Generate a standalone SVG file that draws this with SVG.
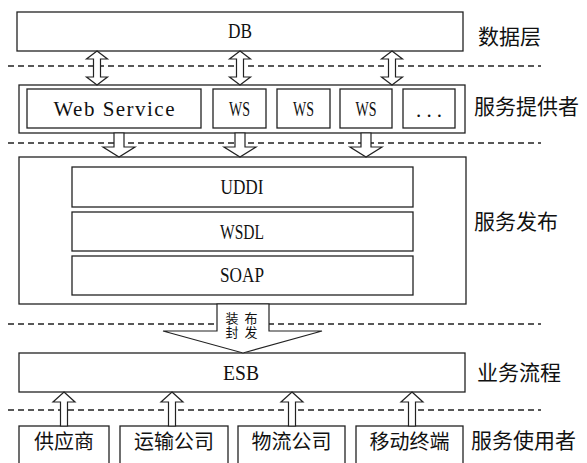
<svg xmlns="http://www.w3.org/2000/svg" width="587" height="463" viewBox="0 0 587 463">
<style>
.box{fill:#fff;stroke:#222;stroke-width:1.3}
.sep{stroke:#222;stroke-width:1.3;stroke-dasharray:6 4;fill:none}
.arr{fill:#fff;stroke:#222;stroke-width:1.2;stroke-linejoin:miter}
.en{font-family:"Liberation Serif",serif;font-size:21px;fill:#111;text-anchor:middle;dominant-baseline:central}
.zh{font-family:"Liberation Serif","Noto Sans CJK SC",sans-serif;font-size:20px;fill:#111;text-anchor:middle;dominant-baseline:central}
.lbl{font-family:"Liberation Serif","Noto Sans CJK SC",sans-serif;font-size:21px;fill:#111;dominant-baseline:central}
.vt{font-family:"Liberation Serif","Noto Sans CJK SC",sans-serif;font-size:13px;fill:#111;text-anchor:middle;dominant-baseline:central}
</style>
<rect width="587" height="463" fill="#fff"/>
<g id="separators">
<line class="sep" x1="8" y1="66" x2="541" y2="66"/>
<line class="sep" x1="8" y1="143" x2="541" y2="143"/>
<line class="sep" x1="8" y1="324" x2="541" y2="324"/>
<line class="sep" x1="8" y1="410" x2="541" y2="410"/>
</g>
<g id="db"><rect class="box" x="17" y="12" width="446" height="39"/><text class="en" x="240" y="31" textLength="24" lengthAdjust="spacingAndGlyphs">DB</text></g>
<g id="provider">
<rect class="box" x="19" y="85" width="446" height="48"/>
<g id="web-service"><rect class="box" x="27" y="89" width="174" height="39"/><text class="en" x="114" y="109" textLength="121">Web Service</text></g>
<g id="ws1"><rect class="box" x="213" y="89" width="53" height="39"/><text class="en" x="239.5" y="109" textLength="21" lengthAdjust="spacingAndGlyphs">WS</text></g>
<g id="ws2"><rect class="box" x="277" y="89" width="53" height="39"/><text class="en" x="303.5" y="109" textLength="21" lengthAdjust="spacingAndGlyphs">WS</text></g>
<g id="ws3"><rect class="box" x="340" y="89" width="52" height="39"/><text class="en" x="366" y="109" textLength="21" lengthAdjust="spacingAndGlyphs">WS</text></g>
<g id="more"><rect class="box" x="403" y="89" width="52" height="39"/><text class="en" x="429" y="110" textLength="26">...</text></g>
</g>
<g id="publish">
<rect class="box" x="19" y="157" width="447" height="147"/>
<g id="uddi"><rect class="box" x="72" y="167" width="341" height="40"/><text class="en" x="242" y="187" textLength="43" lengthAdjust="spacingAndGlyphs">UDDI</text></g>
<g id="wsdl"><rect class="box" x="72" y="212" width="341" height="39"/><text class="en" x="242" y="231.5" textLength="44" lengthAdjust="spacingAndGlyphs">WSDL</text></g>
<g id="soap"><rect class="box" x="72" y="256" width="341" height="39"/><text class="en" x="242" y="275" textLength="44" lengthAdjust="spacingAndGlyphs">SOAP</text></g>
</g>
<g id="esb"><rect class="box" x="19" y="353" width="446" height="39"/><text class="en" x="241" y="372.5" textLength="36" lengthAdjust="spacingAndGlyphs">ESB</text></g>
<g id="supplier"><rect class="box" x="19" y="426" width="90" height="42"/><text class="zh" x="64" y="442">供应商</text></g>
<g id="transport"><rect class="box" x="120" y="426" width="108" height="42"/><text class="zh" x="174" y="442">运输公司</text></g>
<g id="logistics"><rect class="box" x="238" y="426" width="107" height="42"/><text class="zh" x="291.5" y="442">物流公司</text></g>
<g id="mobile"><rect class="box" x="356" y="426" width="107" height="42"/><text class="zh" x="409.5" y="442">移动终端</text></g>
<g id="connectors">
<path class="arr" d="M97,51 L107.5,59 L100.5,59 L100.5,77 L107.5,77 L97,85 L86.5,77 L93.5,77 L93.5,59 L86.5,59 Z"/>
<path class="arr" d="M240,51 L250.5,59 L243.5,59 L243.5,77 L250.5,77 L240,85 L229.5,77 L236.5,77 L236.5,59 L229.5,59 Z"/>
<path class="arr" d="M392,51 L402.5,59 L395.5,59 L395.5,77 L402.5,77 L392,85 L381.5,77 L388.5,77 L388.5,59 L381.5,59 Z"/>
<path class="arr" d="M114,133 L124,133 L124,147 L135,147 L119,157 L103,147 L114,147 Z"/>
<path class="arr" d="M235,133 L245,133 L245,147 L256,147 L240,157 L224,147 L235,147 Z"/>
<path class="arr" d="M361,133 L371,133 L371,147 L382,147 L366,157 L350,147 L361,147 Z"/>
<path class="arr" d="M217,304 L269,304 L269,331 L322,331 L243,353 L163,331 L217,331 Z"/>
<text class="vt" x="232" y="332">封</text>
<text class="vt" x="232" y="318">装</text>
<text class="vt" x="251" y="332">发</text>
<text class="vt" x="251" y="318">布</text>
<path class="arr" d="M64,392 L75,402 L67.5,402 L67.5,426 L60.5,426 L60.5,402 L53,402 Z"/>
<path class="arr" d="M172,392 L183,402 L175.5,402 L175.5,426 L168.5,426 L168.5,402 L161,402 Z"/>
<path class="arr" d="M292,392 L303,402 L295.5,402 L295.5,426 L288.5,426 L288.5,402 L281,402 Z"/>
<path class="arr" d="M412,392 L423,402 L415.5,402 L415.5,426 L408.5,426 L408.5,402 L401,402 Z"/>
</g>
<g id="labels">
<text class="lbl" x="478" y="37">数据层</text>
<text class="lbl" x="474" y="107">服务提供者</text>
<text class="lbl" x="474" y="222">服务发布</text>
<text class="lbl" x="477" y="373">业务流程</text>
<text class="lbl" x="471" y="441">服务使用者</text>
</g>
</svg>
